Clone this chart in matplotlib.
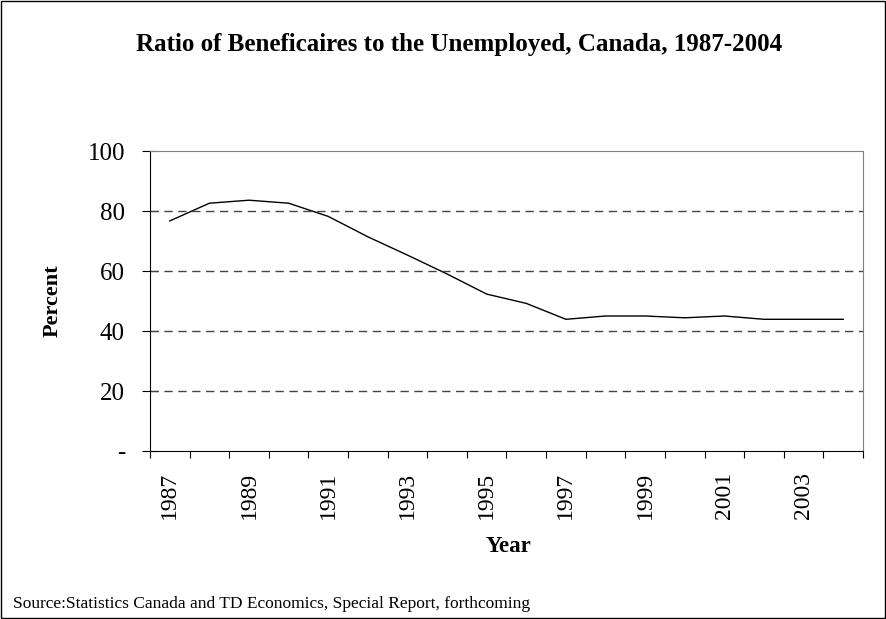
import numpy as np
import matplotlib.pyplot as plt
from matplotlib.patches import Rectangle

years = list(range(1987, 2005))
ratio = [76.7, 82.6, 83.6, 82.6, 78.2, 71.4, 65.3, 59.0, 52.3, 49.2, 43.9,
         45.0, 45.0, 44.4, 45.0, 43.9, 43.9, 43.9]
y_ticks = [0, 20, 40, 60, 80, 100]
y_labels = ["-", "20", "40", "60", "80", "100"]

plt.rcParams['font.family'] = ['Liberation Serif', 'DejaVu Serif']

fig = plt.figure(figsize=(8.87, 6.19), dpi=100)
ax = fig.add_axes([150/887, 1-451/619, 713/887, 300/619])

x = np.arange(len(years))
ax.plot(x, ratio, color="black", linewidth=1)

ax.set_xlim(-0.5, len(years)-0.5)
ax.set_ylim(0, 100)
ax.set_yticks(y_ticks)
ax.set_yticklabels(y_labels, fontsize=18)
for v in y_ticks[1:-1]:
    ax.axhline(v, color="#444444", linestyle=(0, (6, 4)), linewidth=1)

# ticks on category edges, labels on every second category
ax.set_xticks(np.arange(len(years)+1)-0.5)
ax.set_xticklabels([])
ax.set_xticks(x[::2], minor=True)
ax.set_xticklabels([str(y) for y in years[::2]], minor=True, rotation=90, fontsize=17)
ax.tick_params(axis="x", which="minor", length=0, pad=15)
ax.tick_params(axis="x", which="major", length=5, direction="out")
ax.tick_params(axis="y", length=12, direction="inout", pad=12)

for s in ["top", "right"]:
    ax.spines[s].set_color("#808080")
for s in ["left", "bottom"]:
    ax.spines[s].set_color("black")

fig.text(53/887, 1-301/619, "Percent", fontsize=16, fontweight="bold",
         rotation=90, ha="center", va="center")
fig.text(508/887, 1-546/619, "Year", fontsize=16.5, fontweight="bold", ha="center", va="center")
fig.text(459/887, 1-45/619, "Ratio of Beneficaires to the Unemployed, Canada, 1987-2004",
         fontsize=18, fontweight="bold", ha="center", va="center")
fig.text(13/887, 1-604/619, "Source:Statistics Canada and TD Economics, Special Report, forthcoming",
         fontsize=12.5, ha="left", va="center")

fig.patches.append(Rectangle((0.001, 0.001), 0.997, 0.997, transform=fig.transFigure,
                             fill=False, edgecolor="black", linewidth=1))

fig.savefig("out.png", dpi=100)
